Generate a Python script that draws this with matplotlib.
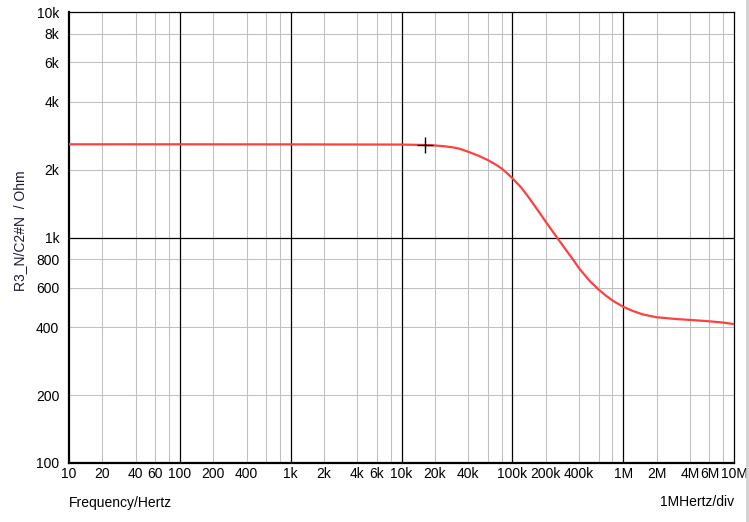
import numpy as np
import matplotlib.pyplot as plt
from matplotlib.lines import Line2D

plt.rcParams['font.family'] = ['Liberation Sans', 'DejaVu Sans']

# impedancia (Hz, Ohm)
freq = [10, 100, 1e3, 1e4, 16e3, 20e3, 25e3, 30e3, 33.7e3, 40e3, 50e3, 60e3,
        70e3, 80e3, 90e3, 100e3, 120e3, 139e3, 170e3, 200e3, 251e3, 300e3,
        355e3, 400e3, 500e3, 600e3, 700e3, 800e3, 900e3, 1e6, 1.2e6, 1.5e6,
        2e6, 3e6, 4e6, 6e6, 8e6, 10e6]
imp = [2590, 2590, 2588, 2583, 2572, 2560, 2535, 2503, 2472, 2400, 2300, 2206,
       2113, 2024, 1925, 1833, 1668, 1517, 1320, 1175, 1005, 890,
       795, 730, 641, 588, 552, 526, 508, 493, 474, 456,
       443, 435, 431, 425, 419.5, 413]

# cursor
cur_f = [16.3e3]
cur_z = [2572]

xticks = [10, 20, 40, 60, 100, 200, 400, 1e3, 2e3, 4e3, 6e3, 1e4, 2e4, 4e4,
          1e5, 2e5, 4e5, 1e6, 2e6, 4e6, 6e6, 1e7]
xlabels = ['10', '20', '40', '60', '100', '200', '400', '1k', '2k', '4k', '6k',
           '10k', '20k', '40k', '100k', '200k', '400k', '1M', '2M', '4M', '6M', '10M']
yticks = [100, 200, 400, 600, 800, 1e3, 2e3, 4e3, 6e3, 8e3, 1e4]
ylabels = ['100', '200', '400', '600', '800', '1k', '2k', '4k', '6k', '8k', '10k']

fig = plt.figure(figsize=(7.49, 5.22), dpi=100)
ax = fig.add_axes([69/749, 59/522, 665/749, 451/522])
ax.set_xscale('log')
ax.set_yscale('log')
ax.set_xlim(10, 1e7)
ax.set_ylim(100, 1e4)

# rejilla
for dec in [10, 100, 1e3, 1e4, 1e5, 1e6]:
    for m in [2, 4, 6, 8]:
        ax.axvline(dec * m, color='#c0c0c0', lw=0.75, zorder=1)
    if dec > 10:
        ax.axvline(dec, color='black', lw=0.9, zorder=1.5)
for dec in [100, 1000]:
    for m in [2, 4, 6, 8]:
        ax.axhline(dec * m, color='#c0c0c0', lw=0.75, zorder=1)
ax.axhline(1000, color='black', lw=0.9, zorder=1.5)

ax.plot(freq, imp, color='#ff4040', lw=1.6, zorder=3)
ax.plot(cur_f, cur_z, marker='+', color='black', ms=12, mew=1, ls='none', zorder=4)

ax.set_xticks(xticks)
ax.set_xticklabels(xlabels)
ax.set_yticks(yticks)
ax.set_yticklabels(ylabels)
ax.minorticks_off()
ax.tick_params(length=0, labelsize=10, colors='black')
ax.tick_params(axis='x', pad=3)
ax.tick_params(axis='y', pad=7)

for s in ['left', 'bottom']:
    ax.spines[s].set_linewidth(1.6)
for s in ['top', 'right']:
    ax.spines[s].set_linewidth(0.9)

fig.text(20/749, 1 - 231/522, 'R3_N/C2#N  / Ohm', fontsize=10, rotation=90,
         ha='center', va='center', color='#1a1a3a')
fig.text(69/749, 1 - 503/522, 'Frequency/Hertz', fontsize=10, ha='left', va='center')
fig.text(734/749, 1 - 502/522, '1MHertz/div', fontsize=10, ha='right', va='center')

fig.add_artist(Line2D([746.5/749, 746.5/749], [0, 1], color='#d0d0d0', lw=2))

fig.savefig('out.png', dpi=100)
